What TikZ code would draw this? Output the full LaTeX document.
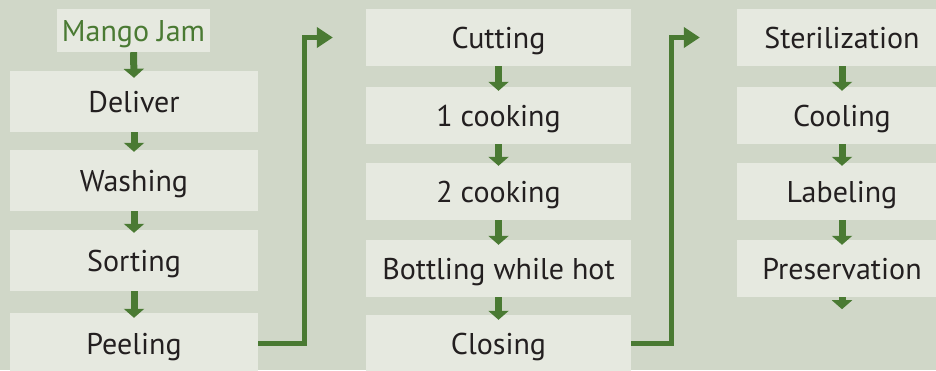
\documentclass[tikz,border=0pt]{standalone}
\usepackage{fontspec}
\setmainfont{PT Sans}
\usetikzlibrary{arrows.meta,calc}
\definecolor{bg}{HTML}{D0D7C8}
\definecolor{boxc}{HTML}{E6E9E0}
\definecolor{grn}{HTML}{4A7A33}
\definecolor{txt}{HTML}{231F20}
\begin{document}
\begin{tikzpicture}[x=1pt,y=-1pt,
  lbl/.style={fill=boxc, inner sep=0pt, text=txt, font=\fontsize{30}{34}\selectfont,
    text height=21pt, text depth=0pt},
  boxa/.style={lbl, minimum width=248pt, minimum height=61pt},
  boxb/.style={lbl, minimum width=265pt, minimum height=57pt},
  boxc3/.style={lbl, minimum width=210pt, minimum height=57pt},
  darr/.style={draw=grn, line width=7pt, -{Triangle[width=20pt,length=9pt]}},
  conn/.style={draw=grn, line width=5pt, line join=miter, -{Triangle[width=20pt,length=16pt]}}]
\useasboundingbox (0,0) rectangle (936,370);
\clip (0,0) rectangle (936,370);
\fill[bg] (0,0) rectangle (936,370);
% column 1
\node[lbl, text=grn, minimum width=153pt, minimum height=43pt] (mj) at (133.5,30.5) {Mango Jam};
\node[boxa] (del) at (134,101.5) {Deliver};
\node[boxa] (was) at (134,180.5) {Washing};
\node[boxa] (sor) at (134,260.5) {Sorting};
\node[boxa] (pee) at (134,343.5) {Peeling};
% column 2
\node[boxb] (cut) at (498.5,37.5) {Cutting};
\node[boxb] (c1) at (498.5,115.5) {1 cooking};
\node[boxb] (c2) at (498.5,191.5) {2 cooking};
\node[boxb] (bot) at (498.5,268.5) {Bottling while hot};
\node[boxb] (clo) at (498.5,343.5) {Closing};
% column 3
\node[boxc3] (ste) at (842,37.5) {Sterilization};
\node[boxc3] (coo) at (842,115.5) {Cooling};
\node[boxc3] (lab) at (842,191.5) {Labeling};
\node[boxc3] (pre) at (842,268.5) {Preservation};
\coordinate (preend) at ($(pre.south)+(0,12)$);
% small arrows
\draw[darr] (mj.south) -- ([yshift=-7pt]del.north);
\draw[darr] (del.south) -- ([yshift=-2pt]was.north);
\draw[darr] (was.south) -- ([yshift=-3pt]sor.north);
\draw[darr] (sor.south) -- ([yshift=-5pt]pee.north);
\draw[darr] (cut.south) -- ([yshift=-4pt]c1.north);
\draw[darr] (c1.south) -- ([yshift=-3pt]c2.north);
\draw[darr] (c2.south) -- ([yshift=-5pt]bot.north);
\draw[darr] (bot.south) -- ([yshift=-5pt]clo.north);
\draw[darr] (ste.south) -- ([yshift=-4pt]coo.north);
\draw[darr] (coo.south) -- ([yshift=-3pt]lab.north);
\draw[darr] (lab.south) -- ([yshift=-5pt]pre.north);
\draw[darr] (pre.south) -- (preend);
% connectors between columns
\coordinate (k1) at (304,37.5);
\coordinate (k2) at (671,37.5);
\draw[conn] (pee.east) -| (k1) -- ([xshift=-33pt]cut.west);
\draw[conn] (clo.east) -| (k2) -- ([xshift=-37pt]ste.west);
\end{tikzpicture}
\end{document}
